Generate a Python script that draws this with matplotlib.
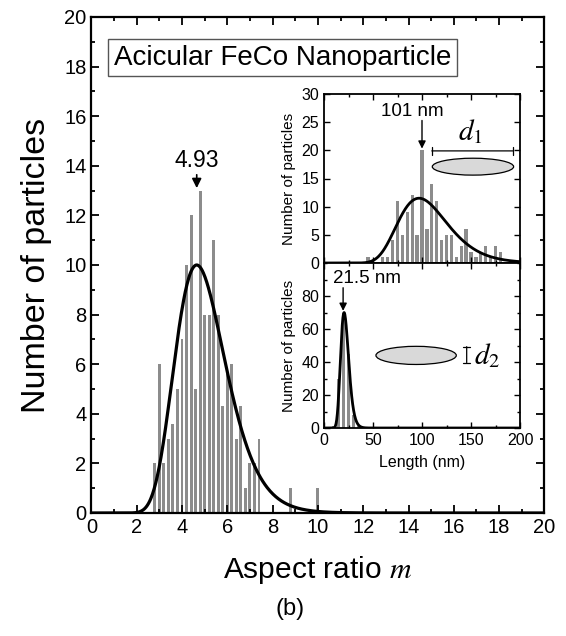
import numpy as np
import matplotlib
matplotlib.use('Agg')
import matplotlib.pyplot as plt
from matplotlib.patches import Ellipse
from matplotlib.ticker import MultipleLocator

plt.rcParams['font.family'] = ['Liberation Sans', 'DejaVu Sans']
plt.rcParams['mathtext.fontset'] = 'stix'

# main histogram: aspect ratio
ar_centers = [2.8, 3.0, 3.2, 3.4, 3.6, 3.8, 4.0, 4.2, 4.4, 4.6, 4.8, 5.0,
              5.2, 5.4, 5.6, 5.8, 6.0, 6.2, 6.4, 6.6, 6.8, 7.0, 7.2, 7.4,
              8.8, 10.0]
ar_counts = [2, 6, 2, 3, 3.6, 5, 7, 10, 12, 5, 13, 8,
             8, 11, 8, 4.3, 5.6, 6, 3, 4.3, 1, 2, 2, 3,
             1, 1]
# log-normal fit (mode, peak height, sigma)
ar_fit = (4.65, 10.0, 0.24)

# inset top: length
len_centers = [45, 60, 65, 70, 75, 80, 85, 90, 95, 100, 105, 110, 115, 120,
               125, 130, 135, 140, 145, 150, 155, 160, 165, 170, 175, 180]
len_counts = [1, 1, 1, 4, 11, 5, 9, 12, 5, 20, 6, 14, 11, 4,
              5, 5, 1, 3, 6, 2, 1, 2, 3, 1, 3, 2]
len_fit = (97.0, 11.5, 0.26)

# inset bottom: width
wid_centers = [10, 15, 20, 25, 30, 35]
wid_counts = [1, 30, 70, 45, 8, 1]
wid_fit = (20.5, 70.0, 0.2)


def lognorm_curve(x, mode, peak, s):
    mu = np.log(mode) + s ** 2
    return peak * (mode / x) * np.exp(-((np.log(x) - mu) ** 2 - s ** 4) / (2 * s ** 2))


W, H = 566, 636
fig = plt.figure(figsize=(W / 100, H / 100), dpi=100)
bar_col = '#8c8c8c'


def frac(l, t, r, b):
    return [l / W, 1 - b / H, (r - l) / W, (b - t) / H]


# ---- main axes
ax = fig.add_axes(frac(91.4, 17, 544.4, 513))
ax.bar(ar_centers, ar_counts, width=0.13, color=bar_col, zorder=1)
xs = np.linspace(0.05, 20, 800)
ax.plot(xs, lognorm_curve(xs, *ar_fit), color='black', lw=2.3, zorder=3)
ax.set_xlim(0, 20)
ax.set_ylim(0, 20)
ax.xaxis.set_major_locator(MultipleLocator(2))
ax.xaxis.set_minor_locator(MultipleLocator(1))
ax.yaxis.set_major_locator(MultipleLocator(2))
ax.yaxis.set_minor_locator(MultipleLocator(1))
ax.tick_params(which='both', direction='in', top=True, right=True, labelsize=14.5, width=1.3)
ax.tick_params(which='major', length=6)
ax.tick_params(which='minor', length=3)
for sp in ax.spines.values():
    sp.set_linewidth(1.6)
ax.set_xlabel('Aspect ratio $m$', fontsize=21.5, labelpad=12)
ax.set_ylabel('Number of particles', fontsize=24.5, labelpad=9)
ax.annotate('4.93', xy=(4.65, 13.1), xytext=(4.65, 13.75), fontsize=16.5,
            ha='center', va='bottom',
            arrowprops=dict(arrowstyle='-|>', color='black', lw=1.2, mutation_scale=14,
                            shrinkA=0, shrinkB=0))
ax.text(0.98, 18.35, 'Acicular FeCo Nanoparticle', fontsize=20, ha='left', va='center',
        bbox=dict(boxstyle='square,pad=0.2', fc='white', ec='#555555', lw=1.0))
fig.text(290 / W, 1 - 609 / H, '(b)', fontsize=17, ha='center', va='center')

# ---- inset top
ax1 = fig.add_axes(frac(324, 94, 520, 263))
ax1.bar(len_centers, len_counts, width=3.3, color=bar_col, zorder=1)
xl = np.linspace(1, 200, 600)
ax1.plot(xl, lognorm_curve(xl, *len_fit), color='black', lw=2.0, zorder=3)
ax1.set_xlim(0, 200)
ax1.set_ylim(0, 30)
ax1.yaxis.set_major_locator(MultipleLocator(5))
ax1.xaxis.set_major_locator(MultipleLocator(50))
ax1.xaxis.set_minor_locator(MultipleLocator(25))
ax1.tick_params(which='both', direction='in', top=True, right=True, labelsize=11.5, width=1.0)
ax1.tick_params(which='major', length=4)
ax1.tick_params(which='minor', length=2)
ax1.tick_params(axis='x', labelbottom=False)
ax1.set_ylabel('Number of particles', fontsize=11, labelpad=4)
ax1.annotate('', xy=(100, 20.3), xytext=(100, 25.3),
             arrowprops=dict(arrowstyle='-|>', color='black', lw=1.0, mutation_scale=11,
                             shrinkA=0, shrinkB=0))
ax1.text(90, 25.4, '101 nm', fontsize=13.5, ha='center', va='bottom')
ax1.add_patch(Ellipse((152, 17.1), 83, 3.0, fc='#d9d9d9', ec='black', lw=0.9, zorder=4))
ax1.annotate('', xy=(110, 19.9), xytext=(193, 19.9),
             arrowprops=dict(arrowstyle='|-|', color='black', lw=0.9, mutation_scale=3,
                             shrinkA=0, shrinkB=0))
ax1.text(149, 20.8, '$d_1$', fontsize=21, ha='center', va='bottom')

# ---- inset bottom
ax2 = fig.add_axes(frac(324, 263, 520, 428))
ax2.bar(wid_centers, wid_counts, width=3.3, color=bar_col, zorder=1)
ax2.plot(xl, lognorm_curve(xl, *wid_fit), color='black', lw=2.0, zorder=3)
ax2.set_xlim(0, 200)
ax2.set_ylim(0, 100)
ax2.set_yticks([0, 20, 40, 60, 80])
ax2.yaxis.set_minor_locator(MultipleLocator(10))
ax2.xaxis.set_major_locator(MultipleLocator(50))
ax2.xaxis.set_minor_locator(MultipleLocator(25))
ax2.tick_params(which='both', direction='in', top=True, right=True, labelsize=11.5, width=1.0)
ax2.tick_params(which='major', length=4)
ax2.tick_params(which='minor', length=2)
ax2.set_xlabel('Length (nm)', fontsize=11.5, labelpad=5)
ax2.set_ylabel('Number of particles', fontsize=11, labelpad=4)
ax2.annotate('', xy=(19.5, 71), xytext=(19.5, 85),
             arrowprops=dict(arrowstyle='-|>', color='black', lw=1.0, mutation_scale=11,
                             shrinkA=0, shrinkB=0))
ax2.text(9, 85.5, '21.5 nm', fontsize=13.5, ha='left', va='bottom')
ax2.add_patch(Ellipse((94, 44), 82, 11, fc='#d9d9d9', ec='black', lw=0.9, zorder=4))
ax2.annotate('', xy=(145.6, 39.6), xytext=(145.6, 49.3),
             arrowprops=dict(arrowstyle='|-|', color='black', lw=0.9, mutation_scale=2.5,
                             shrinkA=0, shrinkB=0))
ax2.text(153, 44, '$d_2$', fontsize=21, ha='left', va='center')
for a in (ax1, ax2):
    for sp in a.spines.values():
        sp.set_linewidth(1.3)

fig.savefig('out.png', dpi=100)
